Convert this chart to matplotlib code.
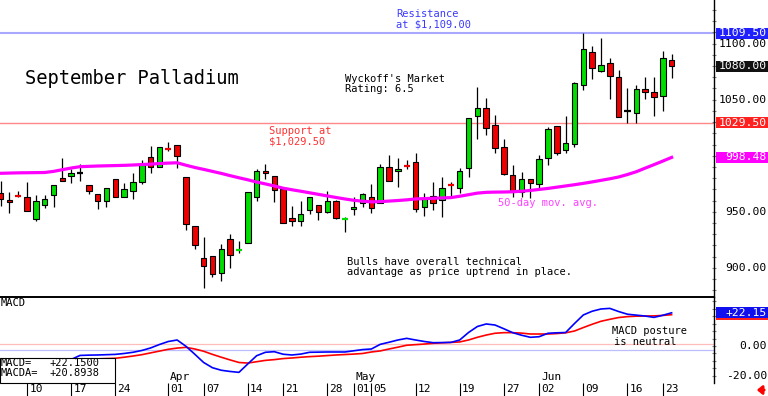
import matplotlib
matplotlib.use("Agg")
import matplotlib.pyplot as plt
import numpy as np
import pandas as pd
from matplotlib.patches import Rectangle, FancyArrowPatch
from matplotlib.transforms import blended_transform_factory

plt.rcParams['font.family'] = ['DejaVu Sans Mono', 'DejaVu Sans']

W, H = 768, 396

# trading days (holidays dropped)
dates = pd.bdate_range("2025-03-05", "2025-06-24")
dates = dates.drop(pd.to_datetime(["2025-04-18", "2025-05-26", "2025-06-19"]))

opens = [967, 960.4, 964.1, 962.9, 943.8, 956, 964.6, 980.4, 982.1, 984.3,
         973.8, 965.8, 959.8, 979.5, 963.4, 968.2, 976.5, 998.5, 990.2, 1006.2,
         1009.5, 980.7, 937.2, 908.4, 910.7, 895.5, 925.6, 915.5, 922.3, 962.9,
         986.6, 981.9, 970, 944.1, 941.7, 951.5, 956, 949.5, 959.6, 943.5,
         952.1, 958, 963.4, 958, 990.2, 986.3, 991.1, 994.6, 954.5, 964.3,
         960.4, 974.1, 971.4, 988.8, 1035.7, 1042.9, 1027.4, 1007.5, 982.5, 967.9,
         978.9, 974.5, 997.7, 1026.5, 1005.1, 1010.4, 1063.1, 1092.9, 1075.9, 1082.5,
         1070.5, 1039.8, 1037.9, 1059.3, 1057.1, 1053.3, 1085.4]
highs = [977, 967.9, 968.8, 976.8, 964.9, 965, 973.8, 998.2, 988.1, 992.6,
         973.8, 965.8, 971.4, 979.5, 975.4, 984.8, 996.2, 1008.7, 1008, 1012.5,
         1009.5, 980.7, 937.2, 927.7, 910.7, 920.9, 929.8, 923.8, 967.9, 987.9,
         992.6, 981.9, 970.9, 955.4, 959.6, 963.4, 956, 968.8, 960.5, 945.5,
         962.9, 966.4, 974.5, 992.6, 1000.6, 997.7, 996.2, 1002.1, 967, 976.8,
         980.7, 976.8, 988.8, 1033.4, 1061.6, 1051.2, 1036.3, 1014.9, 991.7, 985.7,
         978.9, 1000.6, 1025.9, 1026.5, 1035.4, 1066.1, 1109.5, 1098, 1104.8, 1087,
         1076.5, 1060.2, 1063.1, 1070.5, 1070.5, 1093.5, 1090.8]
lows = [955, 949, 962.8, 950.6, 942, 953, 953.9, 977.7, 975.4, 977.4,
        965.8, 952.1, 953.9, 962.9, 962.9, 961.1, 974.7, 984.3, 990.2, 1004.5,
        988.7, 933.7, 917, 881.6, 892, 888.4, 899.5, 912.9, 922.3, 959.8,
        979.2, 958.9, 939.6, 937.2, 937.2, 947.9, 942.6, 948.6, 943.5, 932.1,
        947, 953.9, 949.1, 957.5, 977.7, 972.3, 987.9, 950, 946.4, 951.5,
        945, 963.4, 967, 981.3, 1014.6, 1018.5, 1002.1, 982.8, 963.4, 962.9,
        962, 969.4, 991.7, 1000.6, 1002.7, 1008, 1058.7, 1068.2, 1075, 1050.4,
        1034.8, 1029.5, 1029.5, 1050.4, 1035.4, 1040.2, 1069.1]
closes = [961, 958.4, 963.9, 950.6, 959.3, 961.6, 973.8, 977.7, 984.8, 984.3,
          968.8, 959.8, 971.4, 962.9, 970.5, 976.5, 991.7, 989.6, 1007.5, 1005.8,
          999.7, 938.8, 920, 901.5, 894.1, 916.4, 911, 916.1, 967.9, 986.3,
          984.3, 969.4, 939.6, 941.7, 947.7, 963.4, 950, 959.8, 944.6, 944.1,
          954.5, 965.8, 953, 990.2, 977.7, 988.1, 990.5, 952.1, 962.5, 958,
          971.4, 973.5, 986.6, 1033.4, 1042.3, 1024.5, 1006.6, 983.4, 968.8, 979.5,
          975.4, 996.8, 1023.8, 1002.1, 1011.6, 1065.2, 1095, 1078, 1081, 1071.2,
          1034.8, 1039.8, 1059.3, 1057.1, 1052.7, 1087.5, 1080]

ma50 = [984.3, 984.5, 984.7, 984.8, 984.9, 985.0, 986.0, 987.5, 989.0, 990.2,
        990.5, 990.8, 991.0, 991.2, 991.4, 991.7, 992.1, 992.5, 993.0, 993.4,
        993.7, 991.5, 989.5, 987.8, 986.0, 984.2, 982.2, 980.3, 978.5, 976.5,
        974.8, 973.0, 971.0, 969.6, 968.3, 966.9, 965.5, 964.1, 962.7, 961.4,
        960.2, 959.4, 958.8, 959.0, 959.5, 960.0, 960.6, 961.4, 961.7, 962.0,
        962.3, 962.6, 963.8, 965.2, 966.6, 967.3, 967.5, 967.6, 967.8, 968.3,
        969.0, 969.9, 970.8, 971.9, 973.0, 974.1, 975.3, 976.6, 978.0, 979.4,
        981.0, 983.2, 985.7, 988.9, 992.0, 995.2, 998.48]

macd = [-14.5, -14, -13.5, -13, -12.5, -12, -11.5, -10.5, -9, -6.3,
        -6.1, -6.0, -5.8, -5.6, -5.0, -4.2, -3.0, -1.3, 1.0, 3.0,
        4.0, -0.2, -5.5, -11, -14.5, -16.2, -17, -17.6, -12, -6.5,
        -4.2, -3.8, -5.5, -6.0, -5.4, -4.2, -4.1, -4.0, -4.0, -4.0,
        -3.2, -2.4, -2.0, 1.1, 2.5, 4.0, 5.1, 4.0, 3.0, 2.2,
        2.3, 2.4, 4.0, 9.0, 13.0, 14.7, 14.0, 11.5, 8.9, 7.2,
        5.8, 6.2, 8.5, 8.8, 9.0, 15, 20.7, 23.2, 24.7, 25.1,
        23, 21.2, 20.6, 20.0, 19.1, 20.5, 22.15]
macda = [-11.8, -11.5, -11.2, -11.0, -10.7, -10.4, -10.0, -9.7, -9.4, -9.1,
         -8.8, -8.6, -8.4, -8.2, -7.5, -6.7, -5.8, -4.6, -3.4, -2.2,
         -1.4, -0.9, -2.0, -3.5, -5.6, -7.5, -9.3, -11.0, -11.4, -10.5,
         -9.6, -9.1, -8.4, -8.0, -7.5, -7.1, -6.8, -6.4, -6.0, -5.7,
         -5.4, -5.0, -4.0, -3.3, -2.0, -0.8, 0.5, 0.9, 1.3, 1.8,
         2.1, 2.4, 2.7, 4.0, 5.8, 7.3, 8.5, 8.9, 8.9, 8.6,
         8.0, 8.0, 8.0, 8.3, 8.8, 10.0, 12.3, 14.5, 16.5, 17.8,
         19.0, 19.6, 19.9, 20.0, 20.1, 20.4, 20.89]

tick_dates = ["2025-03-10", "2025-03-17", "2025-03-24", "2025-04-01", "2025-04-07",
              "2025-04-14", "2025-04-21", "2025-04-28", "2025-05-01", "2025-05-05",
              "2025-05-12", "2025-05-19", "2025-05-27", "2025-06-02", "2025-06-09",
              "2025-06-16", "2025-06-23"]
month_dates = ["2025-04-01", "2025-05-01", "2025-06-02"]
month_names = ["Apr", "May", "Jun"]

support = 1029.5
resistance = 1109.5

x = np.arange(len(dates))
o, h, l, c = map(np.array, (opens, highs, lows, closes))
pos = {d: i for i, d in enumerate(dates)}

fig = plt.figure(figsize=(W / 100, H / 100), dpi=100)
ax = fig.add_axes([0, 1 - 297.3 / H, 714 / W, 297.3 / H])
ax2 = fig.add_axes([0, 1 - 383 / H, 714 / W, 85.7 / H])

for a in (ax, ax2):
    for s in ("top", "left", "bottom"):
        a.spines[s].set_visible(False)
    a.spines["right"].set_linewidth(1)
    a.set_xlim(-0.06, 80.8)
    a.yaxis.tick_right()
    a.tick_params(axis="y", direction="inout", length=3, color="gray",
                  labelright=False, labelleft=False)
ax2.spines["top"].set_visible(True)
ax2.spines["top"].set_linewidth(1.4)

ax.set_ylim(873.6, 1139.0)
ax.set_yticks(np.arange(880, 1140, 10))
ax.set_xticks([])
ax2.set_ylim(-24.7, 32.5)
ax2.set_yticks(np.arange(-20, 31, 5))

green, red = "#00dd00", "#ee0000"

# candles
ax.vlines(x, l, h, color="black", lw=0.9, zorder=2)
up = c > o
big = np.abs(c - o) >= 1.5
cols = np.where(up, green, red)
ax.bar(x[big], np.abs(c - o)[big], bottom=np.minimum(o, c)[big], width=0.62,
       color=cols[big], edgecolor="black", linewidth=0.8, zorder=3)
for i in np.where(~big)[0]:
    col = "black" if c[i] == o[i] else cols[i]
    ax.hlines((o[i] + c[i]) / 2, x[i] - 0.35, x[i] + 0.35, color=col, lw=1.6, zorder=3)

ax.plot(x, ma50, color="#ff00ff", lw=2.3, zorder=4)
ax.axhline(resistance, color="#a8a8ff", lw=1.5, zorder=1)
ax.axhline(support, color="#ff8888", lw=1, zorder=1)

# macd panel
ax2.axhline(1.3, color="#ffbcbc", lw=0.9)
ax2.axhline(-2.9, color="#bcbcff", lw=0.9)
ax2.plot(x, macda, color="#ff0000", lw=1.2, zorder=3)
ax2.plot(x, macd, color="#0000ff", lw=1.2, zorder=4)
ax2.add_patch(Rectangle((0, 0), 115 / 714, 25.3 / 85.7, transform=ax2.transAxes,
                        fc="white", ec="black", lw=0.8, zorder=5, clip_on=False))

# date ticks along the bottom
tpos = [pos[pd.Timestamp(d)] for d in tick_dates]
ax2.set_xticks(tpos)
ax2.set_xticklabels([])
ax2.tick_params(axis="x", direction="out", length=9.4, width=0.8, color="black")
bt = blended_transform_factory(ax2.transData, fig.transFigure)
for p, d in zip(tpos, tick_dates):
    ax2.text(p + 0.25, 1 - 389.5 / H, pd.Timestamp(d).strftime("%d"), transform=bt,
             ha="left", va="center", fontsize=8, clip_on=False)
for d, m in zip(month_dates, month_names):
    ax2.text(pos[pd.Timestamp(d)] + 0.2, 1 - 377 / H, m, transform=bt,
             ha="left", va="center", fontsize=8)


def ftext(px, py, s, color="black", size=7.5, **kw):
    fig.text(px / W, 1 - py / H, s, color=color, fontsize=size, va="center", **kw)


ftext(25, 79, "September Palladium", size=13.5)
ftext(396, 14, "Resistance", color="#3a3aff")
ftext(396, 24.3, "at $1,109.00", color="#3a3aff")
ftext(345, 79, "Wyckoff's Market")
ftext(345, 89.3, "Rating: 6.5")
ftext(269, 130.7, "Support at", color="#ff3030")
ftext(269, 141, "$1,029.50", color="#ff3030")
ftext(498, 203.3, "50-day mov. avg.", color="#ff40ff")
ftext(347, 261.7, "Bulls have overall technical")
ftext(347, 272, "advantage as price uptrend in place.")
ftext(612, 331, "MACD posture")
ftext(614, 341.7, "is neutral")
ftext(1, 303.5, "MACD", size=7.5)
fig.text(1 / W, 1 - 363.5 / H, "MACD=", fontsize=7.5, va="center", zorder=6)
fig.text(50 / W, 1 - 363.5 / H, "+22.1500", fontsize=7.5, va="center", zorder=6)
fig.text(1 / W, 1 - 373.5 / H, "MACDA=", fontsize=7.5, va="center", zorder=6)
fig.text(50 / W, 1 - 373.5 / H, "+20.8938", fontsize=7.5, va="center", zorder=6)


# right-hand price labels
def rlabel(a, y, s, fg="black", bg=None, z=3):
    tr = blended_transform_factory(fig.transFigure, a.transData)
    if bg is not None:
        y0, y1 = a.get_ylim()
        hgt = 11 * (y1 - y0) / (a.get_position().height * H)
        a.add_patch(Rectangle((716 / W, y - hgt / 2), 52 / W, hgt, transform=tr,
                              fc=bg, ec="none", clip_on=False, zorder=z))
    if s:
        a.text(767 / W, y, s, transform=tr, ha="right", va="center", fontsize=8.2,
               color=fg, clip_on=False, zorder=z + 0.5)


for v in (900, 950, 1050, 1100):
    rlabel(ax, v, f"{v:.2f}")
rlabel(ax, resistance, f"{resistance:.2f}", "white", "#2020ff", 5)
rlabel(ax, closes[-1], f"{closes[-1]:.2f}", "white", "#111111", 5)
rlabel(ax, support, f"{support:.2f}", "white", "#ff2020", 5)
rlabel(ax, ma50[-1], f"{ma50[-1]:.2f}", "white", "#ff00ff", 5)
rlabel(ax2, 0, "0.00")
rlabel(ax2, -20, "-20.00")
rlabel(ax2, macda[-1], "", bg="#ff2020", z=4)
rlabel(ax2, macd[-1], f"+{macd[-1]:.2f}", "white", "#1010ee", 5)

fig.add_artist(FancyArrowPatch(
    (767 / W, 1 - 390 / H), (754 / W, 1 - 390 / H), transform=fig.transFigure,
    arrowstyle="-|>,head_length=3,head_width=2.5", color="red", lw=2))

fig.savefig("out.png", dpi=100)
